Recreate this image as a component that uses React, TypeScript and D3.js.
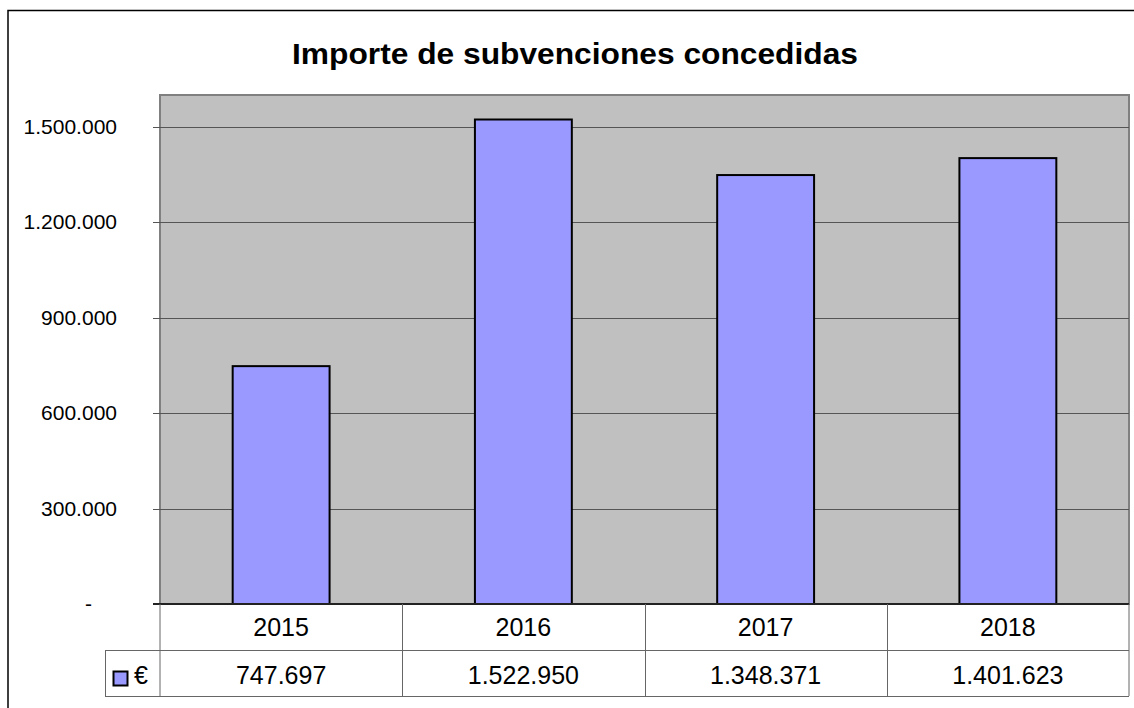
import * as d3 from 'd3'
import React, { useEffect, useRef } from 'react'

const years = ['2015', '2016', '2017', '2018']
const amounts = [747697, 1522950, 1348371, 1401623]
const yTicks = [0, 300000, 600000, 900000, 1200000, 1500000]
const seriesName = '€'
const chartTitle = 'Importe de subvenciones concedidas'

const fmt = (v: number) => (v === 0 ? '-' : d3.format(',')(v).replace(/,/g, '.'))

const App = () => {
  const svgRef = useRef<any>(null)

  useEffect(() => {
    if (!svgRef.current) return
    d3.select(svgRef.current).selectAll('*').remove()

    const width = 1134
    const height = 708
    const left = 160
    const right = 1129
    const top = 95
    const bottom = 604
    const rowH = 46
    const font = 'Liberation Sans, Arial, sans-serif'

    const svg = d3.select(svgRef.current)
      .attr('width', width)
      .attr('height', height)
      .style('font-family', font)

    svg.append('rect')
      .attr('width', width).attr('height', height).attr('fill', 'white')

    // outer chart frame (runs past the right/bottom edges)
    svg.append('rect')
      .attr('x', 8).attr('y', 10.5)
      .attr('width', width + 20).attr('height', height + 20)
      .attr('fill', 'none').attr('stroke', '#000').attr('stroke-width', 1.5)

    svg.append('text')
      .attr('x', 575).attr('y', 64)
      .attr('text-anchor', 'middle')
      .attr('font-size', 30).attr('font-weight', 'bold')
      .attr('textLength', 566).attr('lengthAdjust', 'spacingAndGlyphs')
      .text(chartTitle)

    const x = d3.scaleBand().domain(years).range([left, right])
    const y = d3.scaleLinear().domain([0, 1600000]).range([bottom, top])

    svg.append('rect')
      .attr('x', left).attr('y', top)
      .attr('width', right - left).attr('height', bottom - top)
      .attr('fill', '#C0C0C0').attr('stroke', '#808080').attr('stroke-width', 2)

    // gridlines
    svg.selectAll('.grid')
      .data(yTicks.filter(t => t > 0))
      .enter()
      .append('line')
      .attr('x1', left).attr('x2', right)
      .attr('y1', d => Math.round(y(d)) + 0.5).attr('y2', d => Math.round(y(d)) + 0.5)
      .attr('stroke', '#555').attr('stroke-width', 1)

    // tick marks + labels
    svg.selectAll('.tick')
      .data(yTicks)
      .enter()
      .append('line')
      .attr('x1', left - 7).attr('x2', left)
      .attr('y1', d => Math.round(y(d)) + 0.5).attr('y2', d => Math.round(y(d)) + 0.5)
      .attr('stroke', '#555')

    svg.selectAll('.ylab')
      .data(yTicks)
      .enter()
      .append('text')
      .attr('x', d => (d === 0 ? 92 : 117))
      .attr('y', d => y(d) + 7)
      .attr('text-anchor', 'end')
      .attr('font-size', 21)
      .text(d => fmt(d))

    // bars
    const bw = x.bandwidth() * 0.4
    svg.selectAll('.bar')
      .data(amounts)
      .enter()
      .append('rect')
      .attr('x', (d, i) => (x(years[i]) as number) + (x.bandwidth() - bw) / 2)
      .attr('y', d => y(d))
      .attr('width', bw)
      .attr('height', d => bottom - y(d))
      .attr('fill', '#9999FF').attr('stroke', '#000').attr('stroke-width', 2)

    // x axis line
    svg.append('line')
      .attr('x1', left - 7).attr('x2', right)
      .attr('y1', bottom).attr('y2', bottom)
      .attr('stroke', '#222').attr('stroke-width', 2)

    // data table
    const tableLeft = 105
    const g = svg.append('g').attr('fill', 'none').attr('stroke', '#666').attr('stroke-width', 1)
    g.append('line').attr('x1', left).attr('x2', left).attr('y1', bottom).attr('y2', bottom + rowH * 2)
    g.append('line').attr('x1', right).attr('x2', right).attr('y1', bottom).attr('y2', bottom + rowH * 2)
    g.append('line').attr('x1', tableLeft).attr('x2', right).attr('y1', bottom + rowH + 0.5).attr('y2', bottom + rowH + 0.5)
    g.append('line').attr('x1', tableLeft).attr('x2', right).attr('y1', bottom + rowH * 2 + 0.5).attr('y2', bottom + rowH * 2 + 0.5)
    g.append('line').attr('x1', tableLeft + 0.5).attr('x2', tableLeft + 0.5).attr('y1', bottom + rowH).attr('y2', bottom + rowH * 2)
    g.selectAll('.col')
      .data(years.slice(1))
      .enter()
      .append('line')
      .attr('x1', d => Math.round(x(d) as number) + 0.5).attr('x2', d => Math.round(x(d) as number) + 0.5)
      .attr('y1', bottom).attr('y2', bottom + rowH * 2)

    svg.selectAll('.cat')
      .data(years)
      .enter()
      .append('text')
      .attr('x', d => (x(d) as number) + x.bandwidth() / 2)
      .attr('y', bottom + 32)
      .attr('text-anchor', 'middle')
      .attr('font-size', 25)
      .text(d => d)

    svg.selectAll('.val')
      .data(amounts)
      .enter()
      .append('text')
      .attr('x', (d, i) => (x(years[i]) as number) + x.bandwidth() / 2)
      .attr('y', bottom + rowH + 34)
      .attr('text-anchor', 'middle')
      .attr('font-size', 25)
      .text(d => fmt(d))

    // legend key
    svg.append('rect')
      .attr('x', 113.5).attr('y', 671.5).attr('width', 14).attr('height', 14)
      .attr('fill', '#9999FF').attr('stroke', '#000').attr('stroke-width', 2)
    svg.append('text')
      .attr('x', 134).attr('y', bottom + rowH + 34)
      .attr('font-size', 25)
      .text(seriesName)
  }, [])

  return (
    <svg ref={svgRef} style={{ position: 'absolute', left: 0, top: 0, display: 'block' }}></svg>
  )
}

export default App
